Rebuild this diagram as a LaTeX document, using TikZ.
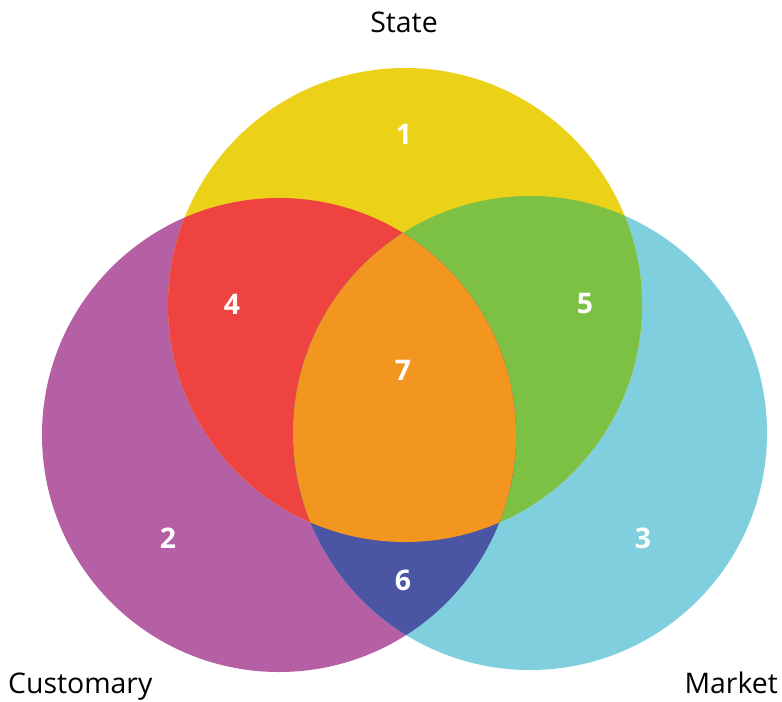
\documentclass[tikz,border=0pt]{standalone}
\usepackage{fontspec}
\setmainfont{Open Sans}
\definecolor{stateyellow}{HTML}{EBD117}
\definecolor{custpurple}{HTML}{B55FA5}
\definecolor{marketcyan}{HTML}{7FCFDE}
\definecolor{regionred}{HTML}{EE4340}
\definecolor{regiongreen}{HTML}{7CC143}
\definecolor{regionorange}{HTML}{F29620}
\definecolor{regionblue}{HTML}{4A55A4}

\begin{document}
\begin{tikzpicture}[x=1bp,y=-1bp,
    set circle/.style={radius=237bp},
    num/.style={text=white,font=\fontsize{28.5}{32}\selectfont\bfseries},
    set label/.style={text=black,font=\fontsize{28.5}{32}\selectfont}]

\useasboundingbox (0,0) rectangle (782,702);

\coordinate (T) at (405,305);
\coordinate (L) at (279,435);
\coordinate (R) at (530,433);

% the three sets
\fill[custpurple] (L) circle[set circle];
\fill[marketcyan] (R) circle[set circle];
\fill[stateyellow] (T) circle[set circle];

% pairwise overlaps
\begin{scope}
\clip (T) circle[set circle];
\fill[regionred] (L) circle[set circle];
\fill[regiongreen] (R) circle[set circle];
\end{scope}
\begin{scope}
\clip (L) circle[set circle];
\fill[regionblue] (R) circle[set circle];
\end{scope}

% all three
\begin{scope}
\clip (T) circle[set circle];
\clip (L) circle[set circle];
\fill[regionorange] (R) circle[set circle];
\end{scope}

\node[num] (n1) at (404,134) {1};
\node[num] (n2) at (168,538) {2};
\node[num] (n3) at (643,538) {3};
\node[num] (n4) at (232,304) {4};
\node[num] (n5) at (585,304) {5};
\node[num] (n6) at (403,580) {6};
\node[num] (n7) at (403,370) {7};

\node[set label,anchor=base] (state) at (404,33) {State};
\node[set label,anchor=base west,inner xsep=0pt] (customary) at (8,693) {Customary};
\node[set label,anchor=base east,inner xsep=0pt] (market) at (778,693) {Market};

\end{tikzpicture}
\end{document}
